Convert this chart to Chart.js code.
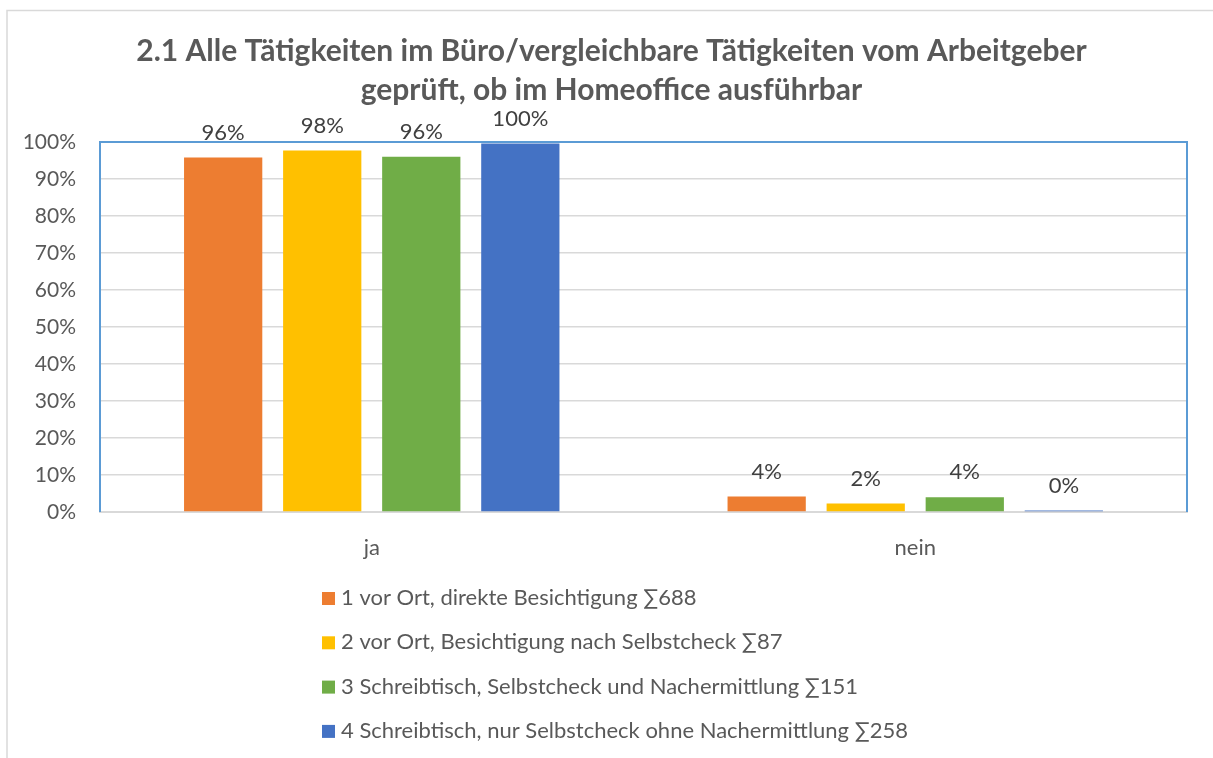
<!DOCTYPE html>
<html lang="de">
<head>
  <meta charset="UTF-8" />
  <title>2.1 Alle Tätigkeiten im Büro</title>
  <script src="https://cdn.jsdelivr.net/npm/chart.js"></script>
  <style>
    body { margin: 0; background: #fff; }
    canvas { display: block; }
  </style>
</head>
<body>
  <canvas id="chart" width="1213" height="758"></canvas>

  <script>
    const categories = ['ja', 'nein'];
    const seriesNames = [
      '1 vor Ort, direkte Besichtigung ∑688',
      '2 vor Ort, Besichtigung nach Selbstcheck ∑87',
      '3 Schreibtisch, Selbstcheck und Nachermittlung ∑151',
      '4 Schreibtisch, nur Selbstcheck ohne Nachermittlung ∑258'
    ];
    const seriesColors = ['#ED7D31', '#FFC000', '#70AD47', '#4472C4'];
    // shares per group in percent: [ja, nein]
    const vorOrtDirekt = [95.8, 4.2];
    const vorOrtSelbstcheck = [97.7, 2.3];
    const schreibtischNachermittlung = [96.0, 4.0];
    const schreibtischOhne = [99.6, 0.4];
    const seriesValues = [vorOrtDirekt, vorOrtSelbstcheck, schreibtischNachermittlung, schreibtischOhne];
    const titleLines = [
      '2.1 Alle Tätigkeiten im Büro/vergleichbare Tätigkeiten vom Arbeitgeber',
      'geprüft, ob im Homeoffice ausführbar'
    ];

    const FONT = 'Lato, "Open Sans", sans-serif';
    const TEXT = '#595959';

    // light outer frame around the whole chart
    const outerFrame = {
      id: 'outerFrame',
      beforeDraw(chart) {
        const ctx = chart.ctx;
        ctx.save();
        ctx.strokeStyle = '#D9D9D9';
        ctx.lineWidth = 1.5;
        ctx.beginPath();
        ctx.moveTo(7, chart.height);
        ctx.lineTo(7, 10.5);
        ctx.lineTo(chart.width, 10.5);
        ctx.stroke();
        ctx.restore();
      }
    };

    // centre the title over the frame instead of the padded box
    const titleShift = {
      id: 'titleShift',
      afterLayout(chart) {
        if (chart.titleBlock) {
          chart.titleBlock.left = 36;
          chart.titleBlock.right = chart.width - 26;
        }
      }
    };

    // blue border on top, left and right of the plot area
    const plotFrame = {
      id: 'plotFrame',
      beforeDatasetsDraw(chart) {
        const { ctx, chartArea: a } = chart;
        ctx.save();
        ctx.strokeStyle = '#5B9BD5';
        ctx.lineWidth = 2;
        ctx.beginPath();
        ctx.moveTo(a.left, a.bottom);
        ctx.lineTo(a.left, a.top);
        ctx.lineTo(a.right, a.top);
        ctx.lineTo(a.right, a.bottom);
        ctx.stroke();
        ctx.restore();
      }
    };

    // percentage labels above each bar
    const barLabels = {
      id: 'barLabels',
      afterDatasetsDraw(chart) {
        const ctx = chart.ctx;
        ctx.save();
        ctx.font = '22px ' + FONT;
        ctx.fillStyle = '#404040';
        ctx.textAlign = 'center';
        ctx.textBaseline = 'middle';
        chart.data.datasets.forEach((ds, i) => {
          chart.getDatasetMeta(i).data.forEach((bar, j) => {
            ctx.fillText(Math.round(ds.data[j]) + '%', bar.x, bar.y - 25);
          });
        });
        ctx.restore();
      }
    };

    // stacked legend below the axis
    const listLegend = {
      id: 'listLegend',
      afterDraw(chart) {
        const ctx = chart.ctx;
        const x = 322;
        const y0 = 598;
        const step = 44.3;
        ctx.save();
        ctx.font = '22px ' + FONT;
        ctx.textBaseline = 'middle';
        chart.data.datasets.forEach((ds, i) => {
          const y = y0 + i * step;
          ctx.fillStyle = ds.backgroundColor;
          ctx.fillRect(x, y - 6, 13, 13);
          ctx.fillStyle = TEXT;
          ctx.fillText(ds.label, x + 19, y);
        });
        ctx.restore();
      }
    };

    new Chart(document.getElementById('chart'), {
      type: 'bar',
      data: {
        labels: categories,
        datasets: seriesNames.map((name, i) => ({
          label: name,
          data: seriesValues[i],
          backgroundColor: seriesColors[i],
          categoryPercentage: 0.729,
          barPercentage: 0.79
        }))
      },
      options: {
        responsive: false,
        animation: false,
        layout: { padding: { left: 10, right: 26, top: 0, bottom: 186 } },
        plugins: {
          legend: { display: false },
          tooltip: { enabled: false },
          title: {
            display: true,
            text: titleLines,
            color: TEXT,
            font: { family: FONT, size: 30, weight: 'bold', lineHeight: 1.3 },
            padding: { top: 32, bottom: 32 }
          }
        },
        scales: {
          x: {
            grid: { display: false, drawTicks: false },
            border: { color: '#D9D9D9', width: 2 },
            ticks: { color: TEXT, font: { family: FONT, size: 22 }, padding: 23 },
            afterFit(scale) { scale.height = 60; }
          },
          y: {
            min: 0,
            max: 100,
            grid: { color: '#D9D9D9', lineWidth: 1.5, drawTicks: false },
            border: { display: false },
            ticks: {
              stepSize: 10,
              color: TEXT,
              font: { family: FONT, size: 21 },
              padding: 24,
              callback: (v) => v + '%'
            },
            afterFit(scale) { scale.width = 90; }
          }
        }
      },
      plugins: [outerFrame, titleShift, plotFrame, barLabels, listLegend]
    });
  </script>
</body>
</html>
